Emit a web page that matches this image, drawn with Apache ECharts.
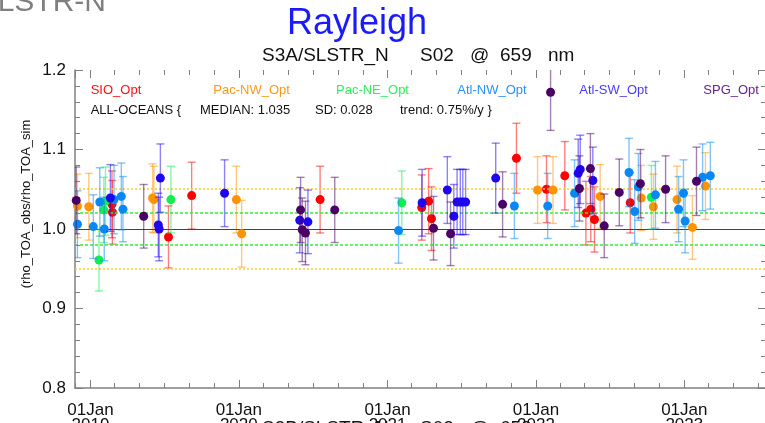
<!DOCTYPE html>
<html><head><meta charset="utf-8">
<script src="https://cdn.jsdelivr.net/npm/echarts@6/dist/echarts.min.js"></script>
<style>html,body{margin:0;padding:0;background:#fff}#c{width:765px;height:423px}</style>
</head><body><div id="c"></div>
<script>
// ---------- data ----------
const xMin = '2018-11-24';
const xMax = '2023-07-21';
const yTicks = [0.8, 0.9, 1.0, 1.1, 1.2];

const sioDate = ['2019-02-23','2019-02-24','2019-07-12','2019-09-07','2020-07-19','2021-03-26','2021-04-12','2021-04-19','2021-11-14','2022-01-27','2022-03-13','2022-05-04','2022-05-16','2022-05-25','2022-08-21'];
const sioVal  = [1.031,1.021,0.990,1.042,1.037,1.027,1.035,1.013,1.089,1.050,1.067,1.020,1.025,1.012,1.033];
const sioErr  = [0.042,0.040,0.039,0.042,0.042,0.041,0.041,0.040,0.044,0.042,0.043,0.040,0.041,0.041,0.038];

const pacNwDate = ['2018-11-30','2018-12-28','2019-06-03','2019-06-06','2019-12-26','2020-01-08','2022-01-05','2022-02-12','2022-06-08','2022-09-17','2022-10-17','2022-12-14','2023-01-21','2023-02-22'];
const pacNwVal  = [1.029,1.028,1.039,1.037,1.037,0.994,1.049,1.049,1.041,1.039,1.028,1.037,1.002,1.054];
const pacNwErr  = [0.040,0.042,0.043,0.042,0.042,0.042,0.042,0.042,0.040,0.041,0.041,0.042,0.040,0.042];

const pacNeDate = ['2019-01-22','2019-02-03','2019-02-07','2019-07-18','2021-02-05','2022-10-12'];
const pacNeVal  = [0.961,1.024,1.035,1.037,1.033,1.040];
const pacNeErr  = [0.039,0.041,0.043,0.042,0.040,0.040];

const atlNwDate = ['2018-11-30','2019-01-08','2019-01-24','2019-02-04','2019-02-28','2019-03-18','2019-03-22','2021-01-28','2021-11-09','2022-01-30','2022-04-06','2022-08-18','2022-09-01','2022-09-10','2022-10-22','2022-12-18','2022-12-30','2023-01-03','2023-02-15','2023-03-06'];
const atlNwVal  = [1.006,1.003,1.034,1.000,1.037,1.041,1.025,0.998,1.029,1.029,1.045,1.071,1.022,1.053,1.043,1.025,1.045,1.010,1.065,1.067];
const atlNwErr  = [0.042,0.040,0.043,0.040,0.043,0.042,0.041,0.041,0.041,0.041,0.042,0.043,0.040,0.042,0.042,0.041,0.042,0.040,0.042,0.042];

const atlSwDate = ['2019-02-19','2019-06-22','2019-06-17','2019-06-19','2019-11-27','2020-05-30','2020-06-19','2021-03-27','2021-05-28','2021-06-13','2021-06-21','2021-06-29','2021-07-05','2021-07-12','2021-09-24','2022-04-15','2022-04-20','2022-05-21'];
const atlSwVal  = [1.039,1.064,1.005,1.000,1.045,1.011,1.009,1.033,1.049,1.016,1.034,1.034,1.034,1.034,1.064,1.070,1.075,1.061];
const atlSwErr  = [0.042,0.043,0.040,0.040,0.042,0.041,0.040,0.042,0.042,0.040,0.041,0.041,0.041,0.041,0.044,0.043,0.043,0.042];

const spgDate = ['2018-11-27','2019-05-12','2020-06-01','2020-06-05','2020-06-13','2020-08-24','2021-04-24','2021-06-05','2021-10-11','2022-02-06','2022-04-18','2022-05-15','2022-06-18','2022-07-25','2022-09-15','2022-11-16','2023-01-31'];
const spgVal  = [1.036,1.016,1.024,0.999,0.995,1.024,1.001,0.994,1.031,1.172,1.051,1.076,1.004,1.046,1.057,1.050,1.060];
const spgErr  = [0.042,0.040,0.041,0.040,0.040,0.041,0.040,0.040,0.041,0.048,0.041,0.044,0.040,0.042,0.043,0.042,0.043];

const refLine = 1.0;
const greenBand = [1.02, 0.98];
const goldBand = [1.05, 0.95];

// ---------- build ----------
const ts = s => Date.parse(s + 'T00:00:00Z');
const groups = [
  {name:'SIO_Opt',    date:sioDate,   val:sioVal,   err:sioErr,   color:'#ff0000', text:'#ff1010'},
  {name:'Pac-NW_Opt', date:pacNwDate, val:pacNwVal, err:pacNwErr, color:'#ff9400', text:'#ff9a10'},
  {name:'Pac-NE_Opt', date:pacNeDate, val:pacNeVal, err:pacNeErr, color:'#10ee50', text:'#30ee60'},
  {name:'Atl-NW_Opt', date:atlNwDate, val:atlNwVal, err:atlNwErr, color:'#0a88f2', text:'#2a90ff'},
  {name:'Atl-SW_Opt', date:atlSwDate, val:atlSwVal, err:atlSwErr, color:'#1e06ee', text:'#4a3aff'},
  {name:'SPG_Opt',    date:spgDate,   val:spgVal,   err:spgErr,   color:'#4a0064', text:'#6a2090'}
];

const series = [];
groups.forEach((g, gi) => {
  const pts = g.date.map((d, i) => [ts(d), g.val[i], g.val[i] - g.err[i], g.val[i] + g.err[i]]);
  series.push({
    type: 'custom', name: g.name + '_err', xAxisIndex: 0, yAxisIndex: 0,
    clip: true, silent: true, z: 2 + gi * 2,
    data: pts,
    renderItem: function (params, api) {
      const x = api.value(0);
      const lo = api.coord([x, api.value(2)]);
      const hi = api.coord([x, api.value(3)]);
      const w = 4;
      const st = {stroke: g.color, lineWidth: 1.4, opacity: 0.5};
      return {type: 'group', children: [
        {type: 'line', shape: {x1: lo[0], y1: lo[1], x2: hi[0], y2: hi[1]}, style: st},
        {type: 'line', shape: {x1: lo[0] - w, y1: lo[1], x2: lo[0] + w, y2: lo[1]}, style: st},
        {type: 'line', shape: {x1: hi[0] - w, y1: hi[1], x2: hi[0] + w, y2: hi[1]}, style: st}
      ]};
    },
    encode: {x: 0, y: 1}
  });
  series.push({
    type: 'scatter', name: g.name, xAxisIndex: 0, yAxisIndex: 0,
    symbol: 'circle', symbolSize: 9, z: 3 + gi * 2,
    itemStyle: {color: g.color, opacity: 1},
    data: pts.map(p => [p[0], p[1]])
  });
});

const lineStyleFor = (t) => t === 'ref' ? {color:'#444', width:1.2, type:'solid'}
  : t === 'green' ? {color:'#33ee33', width:1.5, type:[3,2]}
  : {color:'#ffc830', width:1.5, type:[2,2]};
series.push({
  type: 'line', data: [], xAxisIndex: 0, yAxisIndex: 0, z: 1,
  markLine: {
    silent: true, symbol: 'none', animation: false, label: {show: false},
    data: [
      {yAxis: refLine, lineStyle: lineStyleFor('ref')},
      {yAxis: greenBand[0], lineStyle: lineStyleFor('green')},
      {yAxis: greenBand[1], lineStyle: lineStyleFor('green')},
      {yAxis: goldBand[0], lineStyle: lineStyleFor('gold')},
      {yAxis: goldBand[1], lineStyle: lineStyleFor('gold')}
    ]
  }
});

const DAY = 86400000;
const axisGray = '#808080';
const baseX = (pos, yearly, len, labels) => ({
  type: 'time', position: pos, min: ts(xMin), max: ts(xMax), gridIndex: 0,
  minInterval: yearly ? 365 * DAY : 61 * DAY,
  maxInterval: yearly ? 366 * DAY : 61 * DAY,
  axisLine: {show: labels, lineStyle: {color: axisGray, width: 1.5}},
  axisTick: {show: true, inside: true, length: len, lineStyle: {color: axisGray, width: 1}},
  splitLine: {show: false}, minorTick: {show: false},
  axisPointer: {show: false},
  axisLabel: labels ? {
    show: true, interval: 0, margin: 15, color: '#111', fontSize: 17, lineHeight: 15,
    fontFamily: 'Liberation Sans', hideOverlap: false,
    formatter: function (v) {
      const d = new Date(v);
      if (d.getUTCMonth() === 0 && d.getUTCDate() === 1) return '01Jan\n' + d.getUTCFullYear();
      return '';
    }
  } : {show: false}
});

const baseY = (pos, labels) => ({
  type: 'value', position: pos, min: yTicks[0], max: yTicks[yTicks.length - 1], interval: 0.1,
  axisLine: {show: labels, lineStyle: {color: axisGray, width: 1.5}},
  axisTick: {show: true, inside: true, length: 8, lineStyle: {color: axisGray}},
  minorTick: {show: true, splitNumber: 5, length: 5, lineStyle: {color: axisGray}},
  splitLine: {show: false}, minorSplitLine: {show: false},
  axisLabel: labels ? {show: true, margin: 9, color: '#111', fontSize: 17, fontFamily: 'Liberation Sans',
    formatter: v => yTicks.includes(Math.round(v * 10) / 10) ? v.toFixed(1) : ''} : {show: false}
});

const T = (text, x, y, size, color, align, extra) => Object.assign({
  type: 'text', x: x, y: y, silent: true,
  style: {text: text, fontSize: size, fontFamily: 'Liberation Sans', fill: color, align: align || 'left', verticalAlign: 'middle'}
}, extra || {});

const legendX = [90.7, 213.3, 336, 457.3, 579.3, 703.3];
const graphic = [
  T('SLSTR-N', 106, 2.6, 30, '#7f7f7f', 'right'),
  T('Rayleigh', 287, 24, 36, '#1a1aff', 'left'),
  T('S3A/SLSTR_N', 262, 56, 19, '#111', 'left'),
  T('S02', 420, 56, 19, '#111', 'left'),
  T('@', 470, 56, 19, '#111', 'left'),
  T('659', 500, 56, 19, '#111', 'left'),
  T('nm', 548, 56, 19, '#111', 'left'),
  T('S3B/SLSTR_N', 262, 429, 19, '#111', 'left'),
  T('S02', 420, 429, 19, '#111', 'left'),
  T('@', 470, 429, 19, '#111', 'left'),
  T('659', 500, 429, 19, '#111', 'left'),
  T('nm', 548, 429, 19, '#111', 'left'),
  T('ALL-OCEANS {', 90.7, 110.5, 13, '#111', 'left'),
  T('MEDIAN: 1.035', 200, 110.5, 13, '#111', 'left'),
  T('SD: 0.028', 315, 110.5, 13, '#111', 'left'),
  T('trend: 0.75%/y }', 400, 110.5, 13, '#111', 'left'),
  T('(rho_TOA_obs/rho_TOA_sim', 26, 204, 13, '#111', 'center', {rotation: Math.PI / 2})
];
groups.forEach((g, i) => graphic.push(T(g.name, legendX[i], 90.4, 13, g.text, 'left')));

const chart = echarts.init(document.getElementById('c'), null, {renderer: 'canvas'});
chart.setOption({
  animation: false,
  useUTC: true,
  backgroundColor: '#ffffff',
  grid: {left: 75, top: 70, width: 691, height: 318, containLabel: false, outerBoundsMode: 'none'},
  xAxis: [
    baseX('bottom', true, 8, true),
    baseX('bottom', false, 5, false),
    baseX('top', true, 8, false),
    baseX('top', false, 5, false)
  ],
  yAxis: [baseY('left', true), baseY('right', false)],
  series: series,
  graphic: graphic
});
</script></body></html>
